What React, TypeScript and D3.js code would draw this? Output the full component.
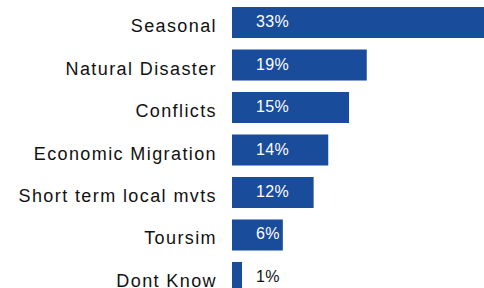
import React, { useEffect, useRef } from 'react';
import * as d3 from 'd3';

// categories, top to bottom
const categories = [
	'Seasonal',
	'Natural Disaster',
	'Conflicts',
	'Economic Migration',
	'Short term local mvts',
	'Toursim',
	'Dont Know',
];
// bar lengths (percent)
const values = [33, 17.5, 15.2, 12.5, 10.6, 6.6, 1.3];
// value labels as printed
const valueLabels = ['33%', '19%', '15%', '14%', '12%', '6%', '1%'];

const App: React.FC = () => {
	const svgRef = useRef<SVGSVGElement>(null);

	useEffect(() => {
		if (!svgRef.current) return;

		const width = 484;
		const height = 288;
		const barLeft = 232;

		const xScale = d3.scaleLinear()
			.domain([0, 35])
			.range([barLeft, barLeft + 7.7 * 35]);

		const yScale = d3.scaleBand<string>()
			.domain(categories)
			.range([7, 293])
			.paddingInner(0.27)
			.paddingOuter(0);

		const svg = d3.select(svgRef.current)
			.attr('width', width)
			.attr('height', height);

		svg.selectAll('*').remove();

		const rows = svg.selectAll('g.row')
			.data(categories)
			.enter()
			.append('g')
			.attr('class', 'row');

		rows.append('rect')
			.attr('x', xScale(0))
			.attr('y', d => yScale(d)!)
			.attr('width', (d, i) => xScale(values[i]) - xScale(0))
			.attr('height', yScale.bandwidth())
			.attr('fill', '#194c9b');

		rows.append('text')
			.attr('x', barLeft - 15)
			.attr('y', d => yScale(d)! + yScale.bandwidth() / 2 + 9.5)
			.attr('text-anchor', 'end')
			.attr('font-family', 'Liberation Sans, Arial, sans-serif')
			.attr('font-size', 18)
			.attr('letter-spacing', 1.4)
			.attr('fill', '#111')
			.text(d => d);

		rows.append('text')
			.attr('x', barLeft + 24)
			.attr('y', d => yScale(d)! + yScale.bandwidth() / 2 + 4.5)
			.attr('font-family', 'Liberation Sans, Arial, sans-serif')
			.attr('font-size', 16)
			.attr('letter-spacing', 0.4)
			.attr('fill', (d, i) => (xScale(values[i]) - barLeft > 40 ? '#fff' : '#111'))
			.text((d, i) => valueLabels[i]);
	}, []);

	return <svg ref={svgRef} style={{ position: 'absolute', left: 0, top: 0 }}></svg>;
};

export default App;
